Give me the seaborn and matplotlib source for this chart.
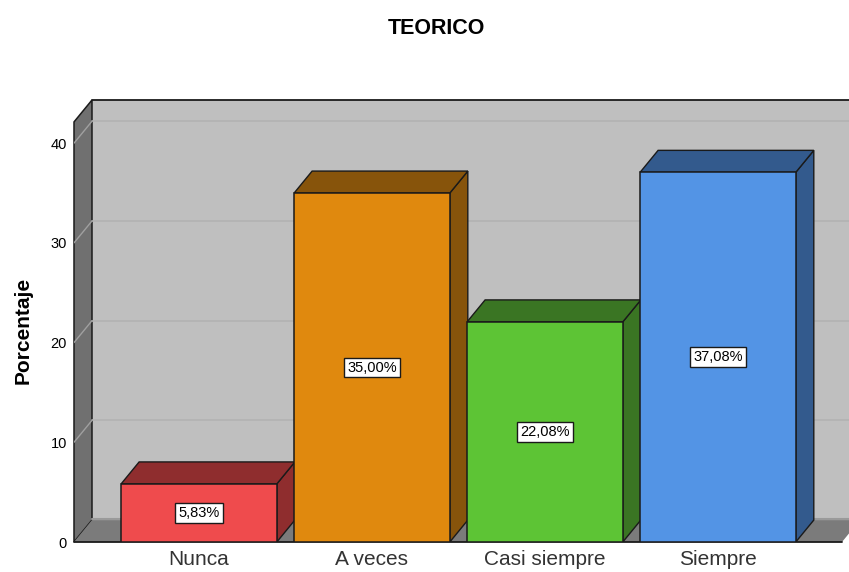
import pandas as pd
import matplotlib.pyplot as plt
import seaborn as sns
from matplotlib.patches import Polygon

categorias = ["Nunca", "A veces", "Casi siempre", "Siempre"]
porcentajes = [5.83, 35.00, 22.08, 37.08]
colores = ["#ef4b4d", "#e0890e", "#5dc435", "#5394e5"]
oscuros = ["#8f2d2e", "#87540b", "#3a7523", "#335a8d"]
ticks_y = [0, 10, 20, 30, 40]

sns.set_theme(style="white")
plt.rcParams["font.family"] = ["Liberation Sans", "DejaVu Sans"]

df = pd.DataFrame({"categoria": categorias, "porcentaje": porcentajes})

fig = plt.figure(figsize=(8.49, 5.72), dpi=100)
ax = fig.add_axes([74 / 849, 1 - 542 / 572, 775 / 849, 442 / 572])

sns.barplot(data=df, x="categoria", y="porcentaje", hue="categoria", order=categorias,
            hue_order=categorias, palette=colores, saturation=1, width=0.9, legend=False,
            edgecolor="#1a1a1a", linewidth=1.1, zorder=4, ax=ax)

x_min, x_max = -0.7225, 3.7575
x_fin = 3.717  # fin del suelo frontal
y_max = 44.33
dx, dy = 0.104, 2.2  # profundidad del efecto 3D
ax.set_xlim(x_min, x_max)
ax.set_ylim(0, y_max)

# Paredes y suelo
ax.add_patch(Polygon([(x_min + dx, dy), (x_fin + dx, dy), (x_fin + dx, y_max), (x_min + dx, y_max)],
                     fc="#bfbfbf", ec="none", zorder=0))
ax.add_patch(Polygon([(x_min, 0), (x_min + dx, dy), (x_min + dx, y_max), (x_min, y_max - dy)],
                     fc="#707070", ec="#1a1a1a", lw=1.1, zorder=1, clip_on=False))
ax.add_patch(Polygon([(x_min, 0), (x_fin, 0), (x_fin + dx, dy), (x_min + dx, dy)],
                     fc="#7b7b7b", ec="none", zorder=1, clip_on=False))
ax.plot([x_min + dx, x_max + dx], [y_max, y_max], color="#1a1a1a", lw=1.3, zorder=2, clip_on=False)
ax.plot([x_min + dx, x_max + dx], [dy + 0.1, dy + 0.1], color="#9a9a9a", lw=1.5, zorder=2)
ax.plot([x_min, x_fin], [0, 0], color="#1a1a1a", lw=1.3, zorder=2, clip_on=False)

# Rejilla
for t in ticks_y[1:]:
    ax.plot([x_min + dx, x_max], [t + dy, t + dy], color="#b2b2b2", lw=1.2, zorder=1)
    ax.plot([x_min, x_min + dx], [t, t + dy], color="#a0a0a0", lw=1, zorder=2)

# Caras laterales y superiores de las barras
for barra, oscuro, valor in zip(ax.patches[:len(categorias)], oscuros, porcentajes):
    x0 = barra.get_x()
    x1 = x0 + barra.get_width()
    ax.add_patch(Polygon([(x1, 0), (x1 + dx, dy), (x1 + dx, valor + dy), (x1, valor)],
                         fc=oscuro, ec="#1a1a1a", lw=1, zorder=3))
    ax.add_patch(Polygon([(x0, valor), (x1, valor), (x1 + dx, valor + dy), (x0 + dx, valor + dy)],
                         fc=oscuro, ec="#1a1a1a", lw=1, zorder=3))
    ax.text((x0 + x1) / 2, valor / 2, f"{valor:.2f}%".replace(".", ","), ha="center", va="center",
            fontsize=10.5, color="black", zorder=6,
            bbox=dict(boxstyle="square,pad=0.2", fc="white", ec="#1a1a1a", lw=1))

sns.despine(ax=ax, left=True, bottom=True, right=True, top=True)
ax.set_yticks(ticks_y)
ax.set_xticks(range(len(categorias)))
ax.set_xticklabels(categorias)
ax.tick_params(axis="y", length=0, pad=5, labelsize=10.5, labelcolor="black")
ax.tick_params(axis="x", length=0, pad=6, labelsize=15, labelcolor="#333333")
ax.set_xlabel("")
ax.set_ylabel("Porcentaje", fontsize=15, fontweight="bold", color="black")
ax.yaxis.set_label_coords(-0.054, 0.478)
fig.suptitle("TEORICO", x=436 / 849, y=1 - 28 / 572, va="center", fontsize=15.5, fontweight="bold", color="black")

fig.savefig("out.png", dpi=100)
